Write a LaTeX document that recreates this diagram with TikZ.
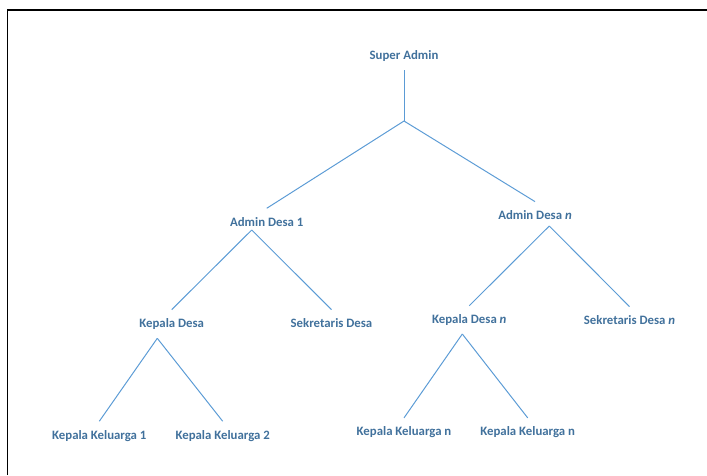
\documentclass[tikz,border=0pt]{standalone}
\usepackage{fontspec}
\setmainfont{Carlito}
\usepackage{tikz}
\usetikzlibrary{positioning}
\usepackage{xcolor}

\definecolor{roletext}{HTML}{41719C}
\definecolor{roleline}{HTML}{5B9BD5}

\tikzset{
    role/.style={inner xsep=2pt, inner ysep=6.1pt, text=roletext, font=\fontsize{9.1}{11}\selectfont\bfseries},
    link/.style={draw=roleline, line width=0.7pt}
}

\begin{document}
\begin{tikzpicture}[x=0.025cm, y=-0.025cm]
    \useasboundingbox (0,0) rectangle (707,475);

    % Frame
    \draw[line width=1.4pt] (7.5,475) -- (7.5,10) -- (707,10);

    % Top level
    \node[role] (SuperAdmin) at (404,55.7) {Super Admin};
    \coordinate (SuperAdminFork) at (404,121);

    % Admin Desa
    \node[role] (AdminDesaA) at (266.7,221.7) {Admin Desa 1};
    \coordinate (AdminDesaAFork) at (251.7,230);
    \node[role] (AdminDesaN) at (535,215) {Admin Desa \textit{n}};
    \coordinate (AdminDesaNFork) at (549.3,226);

    % Kepala Desa and Sekretaris Desa
    \node[role] (KepalaDesaA) at (171.7,324) {Kepala Desa};
    \coordinate (KepalaDesaAFork) at (157.3,338.3);
    \node[role] (SekretarisA) at (331.5,323) {Sekretaris Desa};
    \node[role] (KepalaDesaN) at (469.3,320) {Kepala Desa \textit{n}};
    \coordinate (KepalaDesaNFork) at (462.3,334);
    \node[role] (SekretarisN) at (629.5,320) {Sekretaris Desa \textit{n}};

    % Kepala Keluarga
    \node[role] (KeluargaA) at (99.3,435.7) {Kepala Keluarga 1};
    \node[role] (KeluargaB) at (222.7,435.7) {Kepala Keluarga 2};
    \node[role] (KeluargaNA) at (404,432.3) {Kepala Keluarga n};
    \node[role] (KeluargaNB) at (527.7,432.3) {Kepala Keluarga n};

    % Lines
    \path [link] (SuperAdmin.south) edge (SuperAdminFork);
    \path [link] (SuperAdminFork) edge (AdminDesaA.north);
    \path [link] (SuperAdminFork) edge (AdminDesaN.north);
    \path [link] (AdminDesaAFork) edge (KepalaDesaA.north);
    \path [link] (AdminDesaAFork) edge (SekretarisA.north);
    \path [link] (AdminDesaNFork) edge (KepalaDesaN.north);
    \path [link] (AdminDesaNFork) edge (SekretarisN.north);
    \path [link] (KepalaDesaAFork) edge (KeluargaA.north);
    \path [link] (KepalaDesaAFork) edge (KeluargaB.north);
    \path [link] (KepalaDesaNFork) edge (KeluargaNA.north);
    \path [link] (KepalaDesaNFork) edge (KeluargaNB.north);
\end{tikzpicture}
\end{document}
